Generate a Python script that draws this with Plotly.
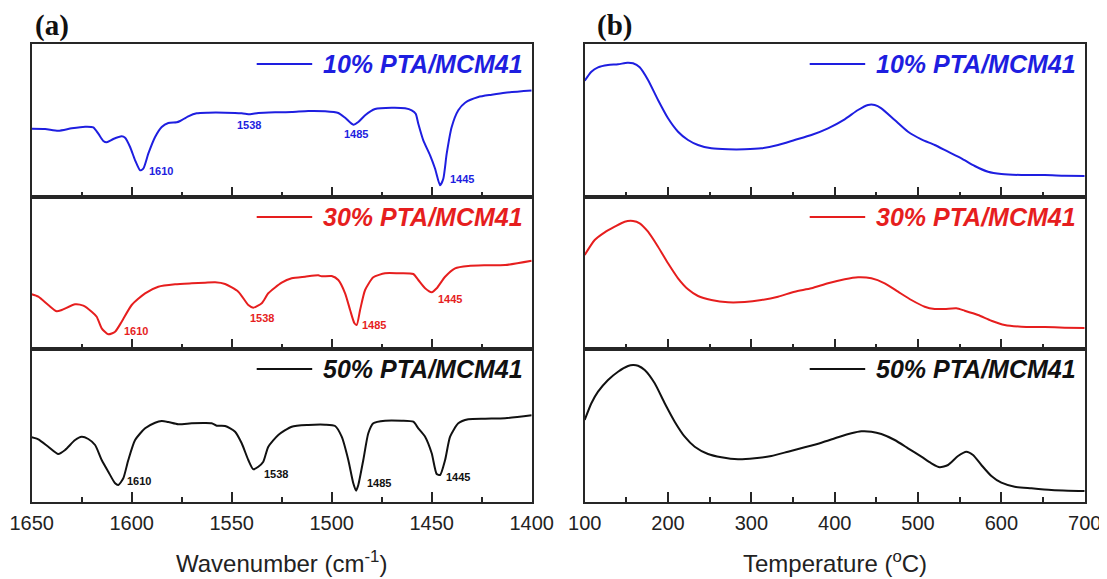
import plotly.graph_objects as go

PAGE_W, PAGE_H = 1107, 579
PAGE_MARGIN = 8  # default <body> margin of the page that holds the figure
W, H = PAGE_W - PAGE_MARGIN, PAGE_H - PAGE_MARGIN

series_names = ["10% PTA/MCM41", "30% PTA/MCM41", "50% PTA/MCM41"]
series_colors = ["#1E1EE0", "#E61E1E", "#111111"]

# ---------------- Panel (a): FTIR (wavenumber, transmittance a.u.) ----------------
a_wn_10 = [1650, 1643.3, 1636.7, 1630, 1623.3, 1619.2, 1616.7, 1614.2, 1612.5, 1609.2, 1605, 1603.3,
           1600.8, 1598.3, 1595.8, 1594.2, 1591.7, 1588.3, 1585, 1581.7, 1577.5, 1575.8, 1571.7, 1567.5,
           1561.7, 1553.3, 1545, 1540.8, 1536.7, 1528.3, 1520, 1511.7, 1503.3, 1496.7, 1493.3, 1489.2,
           1486.7, 1483.3, 1478.3, 1470, 1463.3, 1460, 1458, 1456.7, 1454.2, 1450.8, 1448.3, 1445.8,
           1444.2, 1442.5, 1440, 1436.7, 1433.3, 1426.7, 1420, 1413.3, 1400]
a_10 = [68.3, 68, 66.3, 68.7, 70.3, 69.7, 63.3, 56, 54.7, 58, 60.7, 59.3,
        50, 36.7, 26.7, 28.3, 43.3, 60, 70, 74, 74.7, 76, 80.7, 83.7,
        84.3, 84.3, 83.7, 82.7, 84, 84.7, 85, 86, 85.7, 84, 79.3, 72.3,
        75, 81.7, 88, 89.3, 88.7, 86.7, 83.3, 73.3, 56.7, 41.7, 28.3, 11.7,
        18.3, 43.3, 70, 86.7, 94.3, 100, 102.3, 104.3, 106.5]

a_wn_30 = [1650, 1646.7, 1641.7, 1637.5, 1635, 1628.3, 1624.2, 1620, 1617.5, 1615, 1611.7, 1608.3,
           1605, 1600, 1593.3, 1586.7, 1578.3, 1570, 1563.3, 1558.3, 1553.3, 1546.7, 1541.7, 1539.2,
           1535, 1531.7, 1525, 1520, 1513.3, 1506.7, 1505, 1500, 1496.7, 1493.3, 1490.8, 1488.7,
           1487.5, 1485.8, 1483.3, 1479.2, 1473.3, 1466.7, 1459.2, 1456.7, 1453.3, 1450, 1447.5,
           1443.3, 1438.3, 1431.7, 1423.3, 1413.3, 1400]
a_30 = [54.7, 52.3, 44, 37.7, 39, 44.7, 43.3, 37.3, 32.3, 20.7, 14.7, 17.3,
        27.3, 44, 55.7, 62.3, 64.7, 65.7, 66.3, 66.7, 65, 57.3, 44, 41.3,
        45.7, 55.7, 66.3, 70.7, 72.3, 73.7, 72.7, 73, 69, 55.7, 39, 26,
        24, 39, 59, 71.7, 75.7, 75.7, 75, 69, 60.7, 56.7, 60.7,
        72.3, 80.7, 83, 83.7, 84, 88.3]

a_wn_50 = [1650, 1646.7, 1641.7, 1636.7, 1633.3, 1628.3, 1625, 1621.7, 1618.3, 1615, 1611.7, 1608.3,
           1606.7, 1604.2, 1601.7, 1598.3, 1593.3, 1588.3, 1585, 1581.7, 1576.7, 1570, 1563.3, 1560,
           1557.5, 1553.3, 1548.3, 1545, 1541.7, 1539.2, 1536.7, 1534.2, 1531.7, 1526.7, 1520, 1511.7,
           1503.3, 1498.3, 1495, 1491.7, 1489.2, 1487.8, 1486.7, 1484.2, 1481.7, 1479.2, 1473.3, 1465,
           1459.2, 1456.7, 1453.3, 1450, 1447.5, 1445.8, 1443.3, 1440.8, 1436.7, 1431.7, 1423.3, 1413.3, 1400]
a_50 = [64.7, 62.7, 55.3, 48, 52, 62, 65.3, 63, 57, 42, 30.3, 18.7,
        17, 23.7, 42, 62, 73.7, 79.3, 81, 80, 77.7, 78.7, 79, 78.7,
        76.3, 76, 70.3, 58.7, 42, 32.7, 35.3, 40.3, 55.3, 67, 75.3, 77,
        77.3, 76, 65.3, 42, 18.7, 11.3, 17, 42, 68.7, 78.7, 81.3, 81.3,
        80.3, 73.7, 65.3, 48.7, 28, 27, 42, 65.3, 78.7, 82.7, 83.3, 83.7, 86.7]

# peak labels of panel (a)
peak_text = ["1610", "1538", "1485", "1445"]
peak_x_10 = [1592.5, 1548.3, 1495, 1442]
peak_y_10 = [26, 71.7, 62.7, 17.7]
peak_x_30 = [1605, 1541.7, 1485.8, 1448]
peak_y_30 = [18.3, 30.7, 24, 50]
peak_x_50 = [1603.3, 1534.7, 1483.3, 1443.7]
peak_y_50 = [21, 28, 18.7, 24.7]

# ---------------- Panel (b): NH3-TPD (temperature, signal a.u.) ----------------
b_t_10 = [100, 108, 116, 128, 140, 151.2, 158, 166, 176, 188, 200, 212, 224, 236, 252, 272, 292, 312,
          332, 352, 372, 392, 412, 428, 440, 448, 456, 472, 488, 504, 520, 536, 552, 568, 584, 600,
          624, 652, 676, 700]
b_10 = [116.3, 125.3, 129.7, 132, 132.7, 134.3, 133.7, 129.7, 117, 97, 78.7, 65.3, 57, 52, 48.7, 47.7,
        47.7, 48.7, 52, 57, 62, 68.7, 77.7, 87, 92, 92, 88.7, 77, 65.3, 57.7, 52, 45.3, 38.7, 31,
        25.3, 23, 22, 22, 21.3, 21]

b_t_30 = [100, 112, 124, 136, 148, 158, 166, 176, 188, 200, 212, 224, 236, 252, 272, 292, 312, 332,
          352, 372, 392, 412, 428, 444, 460, 476, 492, 508, 520, 532, 546, 556, 572, 588, 604, 624,
          652, 676, 700]
b_30 = [94, 109, 116.7, 122.3, 127.3, 128, 125.7, 117.3, 102.3, 85.7, 70.7, 59.7, 53, 49, 46.7, 47,
        49, 52.3, 57.3, 60.7, 65.7, 69.7, 71.7, 70.7, 65.7, 57.3, 49, 42.3, 40, 40, 40.7, 38.3, 34,
        28.3, 24, 22.3, 22, 21.3, 21]

b_t_50 = [100, 108, 116, 128, 140, 152, 158, 164, 172, 184, 196, 208, 220, 232, 248, 264, 284, 304,
          324, 344, 364, 384, 404, 420, 432, 444, 456, 472, 488, 504, 516, 526, 536, 548, 558, 566,
          576, 588, 600, 616, 636, 660, 680, 700]
b_50 = [82, 98.7, 110.3, 122, 130.3, 136, 137, 136.3, 132, 118.7, 98.7, 80.3, 65.3, 55.3, 48, 44.7,
        42.7, 43.7, 46, 50.3, 54.7, 59.3, 64.7, 68.7, 70.7, 70.3, 68, 62, 53.7, 45.3, 38.7, 34.7,
        37, 46, 50.3, 47, 37, 26, 19.3, 15.3, 13.7, 12, 11.3, 11]

a_ticks = [1650, 1600, 1550, 1500, 1450, 1400]
b_ticks = [100, 200, 300, 400, 500, 600, 700]
x_titles = ["Wavenumber (cm<sup>-1</sup>)", "Temperature (<sup>o</sup>C)"]
panel_tags = ["(a)", "(b)"]

# ---------------- layout geometry (page pixels) ----------------
SANS = "Liberation Sans, Arial, sans-serif"
SERIF = "Liberation Serif, Times New Roman, serif"
FRAME = "#262626"


def fx(px):
    return (px - PAGE_MARGIN) / W


def fy(py):
    return 1 - (py - PAGE_MARGIN) / H


col_px = [(31.7, 531.7), (584.7, 1084.7)]
row_px = [(44, 197), (197, 349), (349, 502)]
col_dom = [[fx(a), fx(b)] for a, b in col_px]
row_dom = [[fy(b), fy(a)] for a, b in row_px]
row_h = [b - a for a, b in row_px]

fig = go.Figure()

a_data = [(a_wn_10, a_10), (a_wn_30, a_30), (a_wn_50, a_50)]
b_data = [(b_t_10, b_10), (b_t_30, b_30), (b_t_50, b_50)]
peaks = [(peak_x_10, peak_y_10), (peak_x_30, peak_y_30), (peak_x_50, peak_y_50)]

annotations = []
shapes = []
for r in range(3):
    for c in range(2):
        i = r * 2 + c + 1
        sfx = "" if i == 1 else str(i)
        xs, ys = (a_data if c == 0 else b_data)[r]
        fig.add_trace(go.Scatter(
            x=xs, y=ys, mode="lines", name=series_names[r],
            line=dict(color=series_colors[r], width=2, shape="spline", smoothing=0.6),
            xaxis=f"x{sfx}", yaxis=f"y{sfx}", showlegend=False))
        bottom = r == 2
        xa = dict(
            domain=col_dom[c], anchor=f"y{sfx}",
            range=[1650, 1400] if c == 0 else [100, 700],
            tickvals=a_ticks if c == 0 else b_ticks,
            showline=True, mirror=True, linecolor=FRAME, linewidth=1.5,
            ticks="inside", ticklen=10, tickwidth=1.5, tickcolor=FRAME,
            minor=dict(ticks="inside", ticklen=5, tickwidth=1.5, tickcolor=FRAME,
                       dtick=25 if c == 0 else 50, tick0=1400 if c == 0 else 100),
            showticklabels=bottom, showgrid=False, zeroline=False,
            tickfont=dict(family=SANS, size=20, color="#222222"),
            ticklabelstandoff=2,
        )
        ya = dict(
            domain=row_dom[r], anchor=f"x{sfx}", range=[0, row_h[r]],
            showline=True, mirror=True, linecolor=FRAME, linewidth=1.5,
            ticks="", showticklabels=False, showgrid=False, zeroline=False,
        )
        fig.update_layout(**{f"xaxis{sfx}": xa, f"yaxis{sfx}": ya})

        # legend-like key: line + label
        ly = 1 - 20 / row_h[r]
        shapes.append(dict(type="line", xref=f"x{sfx} domain", yref=f"y{sfx} domain",
                           x0=0.45, x1=0.561, y0=ly, y1=ly,
                           line=dict(color=series_colors[r], width=2)))
        annotations.append(dict(text=series_names[r], xref=f"x{sfx} domain", yref=f"y{sfx} domain",
                                x=0.578, y=ly, xanchor="left", yanchor="middle", showarrow=False,
                                font=dict(family=SANS, size=25, color=series_colors[r],
                                          weight="bold", style="italic")))
        if c == 0:
            px, py = peaks[r]
            for t, xv, yv in zip(peak_text, px, py):
                annotations.append(dict(text=t, x=xv, y=yv, xref=f"x{sfx}", yref=f"y{sfx}",
                                        xanchor="left", yanchor="middle", showarrow=False,
                                        font=dict(family=SANS, size=11, color=series_colors[r],
                                                  weight="bold")))

# panel tags
for c, tag in enumerate(panel_tags):
    annotations.append(dict(text=tag, xref="paper", yref="paper",
                            x=fx(col_px[c][0] + (1.5 if c == 0 else 10.5)), y=fy(26),
                            xanchor="left", yanchor="middle", showarrow=False,
                            font=dict(family=SERIF, size=29, color="#111111", weight="bold")))
# axis titles
for c, t in enumerate(x_titles):
    annotations.append(dict(text=t, xref="paper", yref="paper",
                            x=fx((col_px[c][0] + col_px[c][1]) / 2), y=fy(562),
                            xanchor="center", yanchor="middle", showarrow=False,
                            font=dict(family=SANS, size=24, color="#222222")))

fig.update_layout(
    width=W, height=H,
    margin=dict(l=0, r=0, t=0, b=0, autoexpand=False),
    paper_bgcolor="white", plot_bgcolor="white",
    showlegend=False,
    annotations=annotations, shapes=shapes,
)

fig.write_html("out.html")
